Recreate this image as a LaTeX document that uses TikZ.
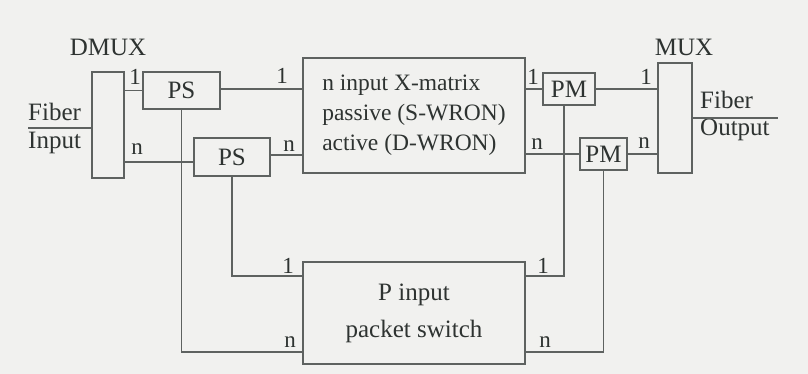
\documentclass[tikz,border=0pt]{standalone}
\usepackage{fontspec}
\setmainfont{Liberation Serif}
\definecolor{bgc}{HTML}{F1F1EF}
\definecolor{linec}{HTML}{5E6260}
\definecolor{txtc}{HTML}{2E3331}
\begin{document}
\begin{tikzpicture}[x=1pt,y=-1pt,
  box/.style={draw=linec,line width=1.1pt,fill=bgc,inner sep=0pt,text=txtc,
    font=\fontsize{25}{30}\selectfont},
  wire/.style={draw=linec,line width=1.1pt},
  lbl/.style={text=txtc,inner sep=0pt,font=\fontsize{23}{26}\selectfont},
  txt/.style={text=txtc,inner sep=0pt,font=\fontsize{25}{30}\selectfont}]
\fill[bgc] (0,0) rectangle (808,374);
\useasboundingbox (0,0) rectangle (808,374);
% boxes
\node[box,minimum width=32pt,minimum height=106pt] (dmux) at (108,125) {};
\node[box,minimum width=77pt,minimum height=37pt] (ps1) at (181.5,90.5) {PS};
\node[box,minimum width=76pt,minimum height=38pt] (ps2) at (232,157) {PS};
\node[box,minimum width=222pt,minimum height=115pt,align=left,
  font=\fontsize{23.5}{30}\selectfont] (xm) at (414,115.5)
  {n input X-matrix\\passive (S-WRON)\\active (D-WRON)};
\node[box,minimum width=52pt,minimum height=32pt] (pm1) at (569,89) {PM};
\node[box,minimum width=47pt,minimum height=32pt] (pm2) at (603.5,154) {PM};
\node[box,minimum width=34pt,minimum height=110pt] (mux) at (675,118) {};
\node[box,minimum width=222pt,minimum height=102pt,align=center,
  font=\fontsize{25}{37}\selectfont] (psw) at (414,313) {P input\\packet switch};
% titles and fiber texts
\node[txt] (tdmux) at (108,47) {DMUX};
\node[txt] (tmux) at (684,47) {MUX};
\node[txt,anchor=west] (fib1) at (28,112) {Fiber};
\node[txt,anchor=west] (inp) at (28,143) {Input};
\node[txt,anchor=west] (fib2) at (700,100) {Fiber};
\node[txt,anchor=west] (outp) at (700,130) {Output};
\coordinate (fin) at (28,128);
\coordinate (fout) at (778,118);
% wires
\draw[wire] (fin) -- (fin -| dmux.west);
\draw[wire] (mux.east |- fout) -- (fout);
\draw[wire] (ps1.west -| dmux.east) -- (ps1.west);
\draw[wire] ([yshift=-5pt]ps2.west -| dmux.east) -- ([yshift=-5pt]ps2.west);
\draw[wire] ([yshift=1.5pt]ps1.east) -- ([yshift=1.5pt]ps1.east -| xm.west);
\draw[wire] ([yshift=2pt]ps2.east) -- ([yshift=2pt]ps2.east -| xm.west);
\draw[wire] (pm1.west -| xm.east) -- (pm1.west);
\draw[wire] (pm2.west -| xm.east) -- (pm2.west);
\draw[wire] (pm1.east) -- (pm1.east -| mux.west);
\draw[wire] (pm2.east) -- (pm2.east -| mux.west);
\draw[wire] (ps1.south) |- ([yshift=-39pt]psw.west);
\draw[wire] (ps2.south) |- ([yshift=37pt]psw.west);
\draw[wire] ([xshift=-5pt]pm1.south) |- ([yshift=37pt]psw.east);
\draw[wire] (pm2.south) |- ([yshift=-39pt]psw.east);
% port labels
\node[lbl] (a1) at (135,77) {1};
\node[lbl] (an) at (137,149) {n};
\node[lbl] (b1) at (282,76) {1};
\node[lbl] (bn) at (289,146) {n};
\node[lbl] (c1) at (533,77) {1};
\node[lbl] (cn) at (537,144) {n};
\node[lbl] (d1) at (646,77) {1};
\node[lbl] (dn) at (644,143) {n};
\node[lbl] (e1) at (288,266) {1};
\node[lbl] (en) at (290,342) {n};
\node[lbl] (f1) at (543,266) {1};
\node[lbl] (fn) at (545,342) {n};
\end{tikzpicture}
\end{document}
